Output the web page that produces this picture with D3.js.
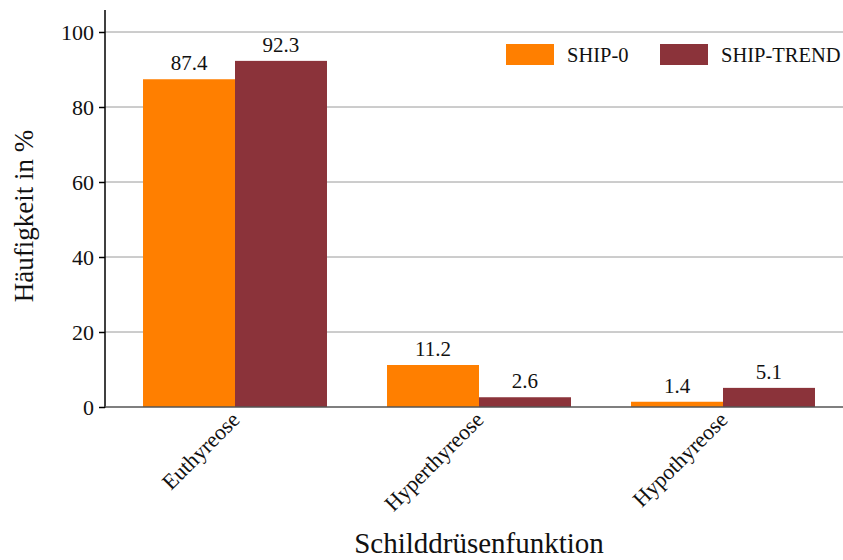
<!DOCTYPE html>
<html>
<head>
<meta charset="utf-8">
<script src="https://cdn.jsdelivr.net/npm/d3@7"></script>
<style>
  body { margin: 0; background: #fff; }
  svg text { font-family: "Liberation Serif", "DejaVu Serif", serif; fill: #111; }
</style>
</head>
<body>
<div id="chart"></div>
<script>
'use strict'

// data
const categories = ['Euthyreose', 'Hyperthyreose', 'Hypothyreose']
const seriesNames = ['SHIP-0', 'SHIP-TREND']
const ship0 = [87.4, 11.2, 1.4]
const shipTrend = [92.3, 2.6, 5.1]
const yTicks = [0, 20, 40, 60, 80, 100]

const colors = ['#FF7F00', '#8B333A']
const series = [ship0, shipTrend]

const W = 843, H = 560

const svg = d3.select('#chart')
    .append('svg')
    .attr('width', W)
    .attr('height', H)

// scales
const y = d3.scaleLinear()
    .domain([0, 100])
    .range([407, 32])

const x = d3.scaleBand()
    .domain(categories)
    .range([113, 845])
    .paddingInner(0.246)
    .paddingOuter(0.123)

const xs = d3.scaleBand()
    .domain(seriesNames)
    .range([0, x.bandwidth()])

// gridlines
svg.append('g')
    .selectAll('line')
    .data(yTicks.filter(d => d > 0))
    .join('line')
    .attr('x1', 105)
    .attr('x2', W)
    .attr('y1', d => y(d))
    .attr('y2', d => y(d))
    .attr('stroke', '#9a9a9a')
    .attr('stroke-width', 1)

// bars
seriesNames.forEach((s, si) => {
    svg.append('g')
        .selectAll('rect')
        .data(categories)
        .join('rect')
        .attr('x', d => x(d) + xs(s))
        .attr('width', xs.bandwidth())
        .attr('y', (d, i) => y(series[si][i]))
        .attr('height', (d, i) => y(0) - y(series[si][i]))
        .attr('fill', colors[si])

    svg.append('g')
        .selectAll('text')
        .data(categories)
        .join('text')
        .attr('x', d => x(d) + xs(s) + xs.bandwidth() / 2)
        .attr('y', (d, i) => y(series[si][i]) - 9)
        .attr('text-anchor', 'middle')
        .attr('font-size', '21px')
        .text((d, i) => series[si][i].toFixed(1))
})

// y axis
const yAxis = d3.axisLeft(y)
    .tickValues(yTicks)
    .tickSize(6)
    .tickPadding(5)

const gy = svg.append('g')
    .attr('transform', 'translate(105,0)')
    .call(yAxis)
gy.select('.domain').remove()
gy.selectAll('line').attr('stroke', '#000').attr('stroke-width', 1.5)
gy.selectAll('text')
    .attr('font-size', '22px')

svg.append('line')
    .attr('x1', 105).attr('x2', 105)
    .attr('y1', 10).attr('y2', 408)
    .attr('stroke', '#000')
    .attr('stroke-width', 1.5)

// bottom axis line
svg.append('line')
    .attr('x1', 105).attr('x2', W)
    .attr('y1', y(0)).attr('y2', y(0))
    .attr('stroke', '#555')
    .attr('stroke-width', 1.5)

// category labels
svg.append('g')
    .selectAll('text')
    .data(categories)
    .join('text')
    .attr('transform', d => `translate(${x(d) + x.bandwidth() / 2 + 6},${y(0) + 14}) rotate(-45)`)
    .attr('text-anchor', 'end')
    .attr('font-size', '22px')
    .text(d => d)

// axis titles
svg.append('text')
    .attr('transform', 'translate(33,216) rotate(-90)')
    .attr('text-anchor', 'middle')
    .attr('font-size', '27px')
    .text('Häufigkeit in %')

svg.append('text')
    .attr('x', 479)
    .attr('y', 553)
    .attr('text-anchor', 'middle')
    .attr('font-size', '29px')
    .text('Schilddrüsenfunktion')

// legend
const legendX = [506, 660]
seriesNames.forEach((s, i) => {
    svg.append('rect')
        .attr('x', legendX[i])
        .attr('y', 44)
        .attr('width', 48)
        .attr('height', 21)
        .attr('fill', colors[i])
    svg.append('text')
        .attr('x', legendX[i] + 61)
        .attr('y', 62)
        .attr('font-size', '20.5px')
        .text(s)
})
</script>
</body>
</html>
